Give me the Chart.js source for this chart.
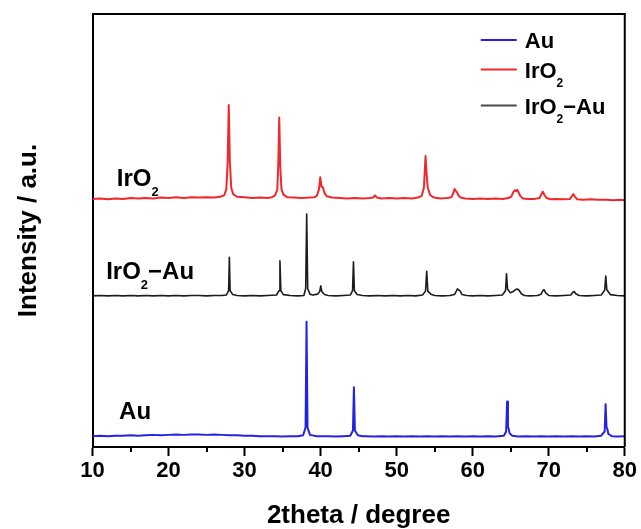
<!DOCTYPE html>
<html>
<head>
<meta charset="utf-8">
<script src="https://cdn.jsdelivr.net/npm/chart.js@4.4.1/dist/chart.umd.min.js"></script>
<style>
html,body{margin:0;padding:0;background:#fff;}
#wrap{width:641px;height:529px;position:relative;}
canvas{display:block;}
</style>
</head>
<body>
<div id="wrap"><canvas id="c" width="641" height="529"></canvas></div>
<script>
// ---- data (2theta in degree, intensity in arbitrary units, curves already offset) ----
const seriesNames = ['Au', 'IrO2', 'IrO2\u2212Au'];
const xTickLabels = [10, 20, 30, 40, 50, 60, 70, 80];
const xMinorTicks = [15, 25, 35, 45, 55, 65, 75];

const iro2Pattern = [[10,57.3],[11,57.4],[12,57.2],[13,57.4],[14,57.3],[15,57.5],[16,57.4],[17,57.5],[18,57.4],[19,57.6],[20,57.5],[21,57.7],[22,57.5],[23,57.7],[24,57.6],[25,57.7],[26,57.6],[26.8,57.8],[27.3,58.1],[27.6,59.5],[27.78,66],[27.92,79],[28.06,66],[28.25,59.8],[28.5,58.4],[29,57.8],[30,57.7],[31,57.5],[32,57.6],[33,57.5],[33.6,57.7],[34.0,58.1],[34.3,59.4],[34.43,65],[34.56,76.1],[34.69,65],[34.85,59.6],[35.1,58.3],[35.6,57.7],[36.5,57.6],[37.5,57.5],[38.5,57.6],[39.2,57.7],[39.5,58.0],[39.78,59.5],[39.95,62.3],[40.12,60.1],[40.3,60.0],[40.5,58.7],[40.8,57.9],[41.5,57.6],[42.5,57.5],[43.5,57.4],[44.5,57.5],[45.5,57.4],[46.5,57.5],[46.9,57.6],[47.15,58.1],[47.4,57.6],[48,57.4],[49,57.5],[50,57.4],[51,57.5],[52,57.4],[52.8,57.6],[53.3,58.0],[53.58,59.8],[53.68,63],[53.8,67.2],[53.92,63.5],[54.08,60],[54.4,58.2],[54.9,57.6],[55.8,57.4],[56.6,57.5],[57.2,57.7],[57.45,58.6],[57.62,59.6],[57.75,59.2],[57.9,58.9],[58.1,58.2],[58.4,57.6],[59,57.4],[60,57.3],[61,57.4],[62,57.3],[63,57.4],[64,57.3],[64.7,57.5],[65.1,57.9],[65.35,58.9],[65.55,59.3],[65.7,59.1],[65.85,59.4],[66.0,58.9],[66.25,58.0],[66.6,57.4],[67.3,57.3],[68.2,57.3],[68.8,57.5],[69.05,58.4],[69.22,59.0],[69.4,58.3],[69.7,57.5],[70.3,57.2],[71,57.3],[72,57.2],[72.8,57.3],[73.08,58.0],[73.23,58.4],[73.42,57.9],[73.75,57.2],[74.5,57.1],[75.5,57.2],[76.5,57.1],[77.5,57.1],[78.5,57.0],[79.3,57.1],[80,57.0]];

const iro2AuPattern = [[10,34.9],[11,35.0],[12,34.9],[13,35.0],[14,34.9],[15,35.0],[16,34.9],[17,35.0],[18,34.9],[19,35.0],[20,34.9],[21,35.0],[22,34.9],[23,35.0],[24,35.0],[25,34.9],[26,35.0],[27,35.0],[27.6,35.1],[27.9,36.1],[28.0,43.8],[28.1,36.1],[28.45,35.2],[29,35.0],[30,34.9],[31,35.0],[32,34.9],[33,35.0],[34.2,35.1],[34.53,36.1],[34.65,43.0],[34.77,36.1],[35.1,35.2],[36,35.0],[37,34.9],[37.8,35.0],[38.04,36.6],[38.17,53.8],[38.3,36.6],[38.6,35.3],[39.0,35.1],[39.6,35.3],[39.88,35.9],[40.02,37.2],[40.16,35.9],[40.5,35.2],[41,35.0],[42,34.9],[43,35.0],[43.9,35.1],[44.2,36.1],[44.32,42.8],[44.44,36.1],[44.8,35.2],[45.5,35.0],[46.5,34.9],[47.5,35.0],[48.5,34.9],[49.5,35.0],[50.5,34.9],[51.5,35.0],[52.5,34.9],[53.4,35.1],[53.8,36.0],[53.95,40.6],[54.1,36.0],[54.5,35.3],[55,35.0],[56,34.9],[57,35.0],[57.6,35.2],[57.85,36.0],[58.0,36.5],[58.15,36.3],[58.35,36.0],[58.6,35.2],[59.2,35.0],[60,34.9],[61,35.0],[62,34.9],[63,35.0],[63.9,35.1],[64.32,36.1],[64.45,40.0],[64.58,36.5],[64.95,35.6],[65.3,35.9],[65.6,36.3],[65.85,36.5],[66.1,36.2],[66.4,35.4],[66.8,35.0],[67.5,34.9],[68.5,35.0],[69.0,35.3],[69.25,36.2],[69.4,36.3],[69.6,35.6],[70.0,35.0],[71,34.9],[72,35.0],[72.9,35.1],[73.2,35.8],[73.35,35.9],[73.55,35.4],[74,35.0],[75,34.9],[76,35.0],[76.9,35.1],[77.36,36.2],[77.5,39.5],[77.64,36.3],[78.1,35.2],[79,35.0],[80,34.9]];

const auPattern = [[10,2.5],[11,2.6],[12,2.5],[13,2.6],[14,2.6],[15,2.7],[16,2.6],[17,2.7],[18,2.8],[19,2.7],[20,2.8],[21,2.9],[22,2.8],[23,2.9],[24,2.9],[25,2.8],[26,2.9],[27,2.8],[28,2.7],[29,2.7],[30,2.6],[31,2.6],[32,2.5],[33,2.5],[34,2.5],[35,2.4],[36,2.5],[37,2.5],[37.7,2.7],[38.02,4.5],[38.15,28.9],[38.28,4.5],[38.6,2.8],[39.5,2.5],[40,2.5],[41,2.5],[42,2.4],[43,2.5],[43.9,2.6],[44.25,3.8],[44.38,13.8],[44.51,3.8],[44.9,2.7],[45.5,2.5],[46,2.5],[47,2.4],[48,2.5],[49,2.4],[50,2.5],[51,2.4],[52,2.5],[53,2.4],[54,2.5],[55,2.4],[56,2.5],[57,2.4],[58,2.5],[59,2.4],[60,2.5],[61,2.4],[62,2.5],[63,2.4],[64.1,2.6],[64.4,3.6],[64.52,10.5],[64.64,4.6],[64.72,4.3],[64.85,3.2],[65.2,2.6],[66,2.4],[67,2.5],[68,2.4],[69,2.5],[70,2.4],[71,2.5],[72,2.4],[73,2.5],[74,2.4],[75,2.5],[76,2.4],[76.9,2.6],[77.36,3.6],[77.48,9.9],[77.6,4.6],[77.7,4.2],[77.85,3.0],[78.3,2.5],[79,2.4],[80,2.5]];

// ---- styling ----
const FONT = "'Liberation Sans', Arial, Helvetica, sans-serif";
const COLORS = { 'Au': '#2424e0', 'IrO2': '#f0282c', 'IrO2\u2212Au': '#1c1c1c' };
Chart.defaults.font.family = FONT;
Chart.defaults.color = '#000';

const toPts = arr => arr.map(p => ({ x: p[0], y: p[1] }));

function drawRich(ctx, parts, x, y, size, color) {
  let cx = x;
  ctx.save();
  ctx.fillStyle = color;
  ctx.textAlign = 'left';
  ctx.textBaseline = 'alphabetic';
  for (const [t, sub] of parts) {
    const s = sub ? Math.round(size * 0.56) : size;
    ctx.font = 'bold ' + s + 'px ' + FONT;
    ctx.fillText(t, cx, sub ? y + size * 0.42 : y);
    cx += ctx.measureText(t).width;
  }
  ctx.restore();
}

const richText = {
  'Au': [['Au', 0]],
  'IrO2': [['IrO', 0], ['2', 1]],
  'IrO2\u2212Au': [['IrO', 0], ['2', 1], ['\u2212Au', 0]]
};

const framePlugin = {
  id: 'frame',
  afterDraw(chart) {
    const { ctx, chartArea: a, scales } = chart;
    ctx.save();
    ctx.strokeStyle = '#000';
    ctx.lineWidth = 2;
    ctx.beginPath();
    ctx.moveTo(a.left, a.top);
    ctx.lineTo(a.right, a.top);
    ctx.lineTo(a.right, a.bottom);
    ctx.stroke();
    ctx.beginPath();
    for (const v of xMinorTicks) {
      const px = Math.round(scales.x.getPixelForValue(v));
      ctx.moveTo(px, a.bottom);
      ctx.lineTo(px, a.bottom + 5);
    }
    ctx.stroke();
    ctx.restore();
  }
};

const labelPlugin = {
  id: 'curveLabels',
  afterDraw(chart) {
    const { ctx, scales: { x, y }, chartArea: a } = chart;
    const curveLabels = [
      { name: 'IrO2', x: 13.2, y: 60.3 },
      { name: 'IrO2\u2212Au', x: 11.8, y: 38.9 },
      { name: 'Au', x: 13.5, y: 6.5 }
    ];
    for (const l of curveLabels) {
      drawRich(ctx, richText[l.name], x.getPixelForValue(l.x), y.getPixelForValue(l.y), 24, '#000');
    }
    const rowsY = [40, 69.5, 105.5];
    const lx0 = a.right - 144, lx1 = a.right - 108, tx = a.right - 100;
    seriesNames.forEach((n, i) => {
      const ry = rowsY[i];
      ctx.save();
      ctx.strokeStyle = COLORS[n];
      ctx.globalAlpha = n === 'IrO2\u2212Au' ? 0.8 : 1;
      ctx.lineWidth = 2;
      ctx.beginPath();
      ctx.moveTo(lx0, ry);
      ctx.lineTo(lx1, ry);
      ctx.stroke();
      ctx.restore();
      drawRich(ctx, richText[n], tx, ry + 8, 22, '#000');
    });
  }
};

new Chart(document.getElementById('c').getContext('2d'), {
  type: 'line',
  data: {
    datasets: [
      { label: seriesNames[1], data: toPts(iro2Pattern), borderColor: COLORS['IrO2'], borderWidth: 2 },
      { label: seriesNames[2], data: toPts(iro2AuPattern), borderColor: COLORS['IrO2\u2212Au'], borderWidth: 1.6 },
      { label: seriesNames[0], data: toPts(auPattern), borderColor: COLORS['Au'], borderWidth: 2 }
    ]
  },
  options: {
    responsive: false,
    animation: false,
    devicePixelRatio: 1,
    layout: { padding: { top: 14, right: 15, left: 0, bottom: 0 } },
    plugins: { legend: { display: false }, tooltip: { enabled: false } },
    elements: { point: { radius: 0 }, line: { tension: 0, borderJoinStyle: 'round' } },
    scales: {
      x: {
        type: 'linear', min: 10, max: 80,
        ticks: {
          stepSize: 10, autoSkip: false, maxRotation: 0, padding: 4, color: '#000',
          font: { size: 22, weight: 'bold', lineHeight: 1 },
          callback: v => xTickLabels.includes(v) ? String(v) : ''
        },
        grid: { display: true, drawOnChartArea: false, drawTicks: true, tickLength: 9, tickWidth: 2, tickColor: '#000' },
        border: { display: true, color: '#000', width: 2 },
        title: { display: true, text: '2theta / degree', color: '#000', font: { size: 26, weight: 'bold', lineHeight: 1 }, padding: { top: 17, bottom: 0 } }
      },
      y: {
        min: 0, max: 100,
        ticks: { display: false },
        grid: { display: false, drawTicks: false },
        border: { display: true, color: '#000', width: 2 },
        title: { display: true, text: 'Intensity / a.u.', color: '#000', font: { size: 26, weight: 'bold', lineHeight: 1 }, padding: { top: 16, bottom: 50.5 } }
      }
    }
  },
  plugins: [framePlugin, labelPlugin]
});
</script>
</body>
</html>
